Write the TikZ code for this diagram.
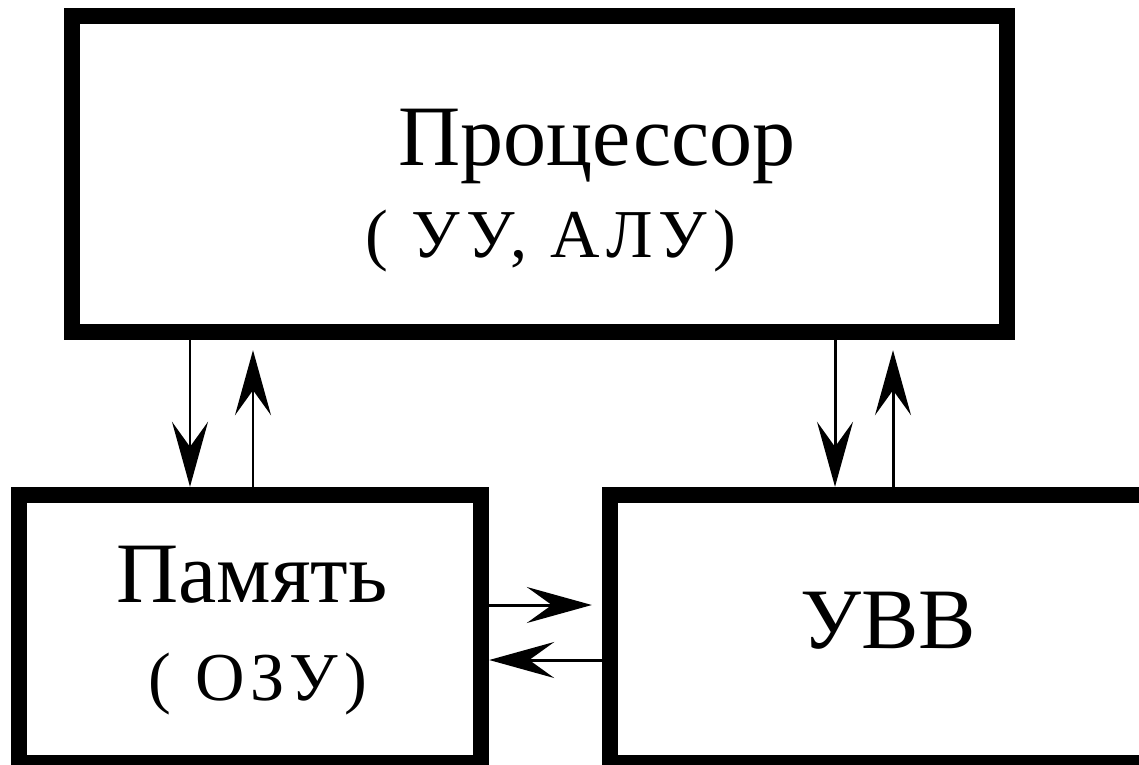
\documentclass[tikz,border=0pt]{standalone}
\usepackage{fontspec}
\setmainfont{Liberation Serif}
\usetikzlibrary{arrows.meta,positioning,calc}
\tikzset{
  busarrow/.style={-{Stealth[length=1.3cm,width=0.72cm,inset=0.5cm]}, line width=1.7pt, draw=black},
  busback/.style={busarrow, shorten >=0.2cm}
}

\begin{document}
\begin{tikzpicture}[
  x=0.02cm, y=-0.02cm,
  unitbox/.style={draw, line width=0.33cm, inner sep=0pt},
  bigtext/.style={font=\fontsize{49}{52}\selectfont, anchor=base},
  subtext/.style={font=\fontsize{39}{42}\selectfont\addfontfeature{LetterSpace=9}, anchor=base}
]
\useasboundingbox (0,0) rectangle (1139,764);
\clip (0,0) rectangle (1139,764);
\fill[white] (0,0) rectangle (1139,764);

% the three units
\node[unitbox, minimum width=18.7cm, minimum height=6.32cm] at (539.5,174) (cpu) {};
\node[unitbox, minimum width=9.24cm, minimum height=5.36cm] at (250,629) (mem) {};
\node[unitbox, minimum width=11cm, minimum height=5.36cm] at (885,629) (io) {};

\node[bigtext] at (597,165) (cpuname) {Процессор};
\node[subtext] at (551,257) (cpuparts) {( УУ, АЛУ)};
\node[bigtext] at (252,602) (memname) {Память};
\node[subtext] at (258,700) (memparts) {( ОЗУ)};
\node[bigtext] at (888,648) (ioname) {УВВ};

% links between the units
\coordinate (ldown) at (190,0);
\coordinate (lup) at (253,0);
\coordinate (rdown) at (835,0);
\coordinate (rup) at (893,0);
\coordinate (hright) at (0,605);
\coordinate (hleft) at (0,660);
\draw[busarrow] (cpu.south -| ldown) -- (mem.north -| ldown);
\draw[busback] (mem.north -| lup) -- (cpu.south -| lup);
\draw[busarrow] (cpu.south -| rdown) -- (io.north -| rdown);
\draw[busback] (io.north -| rup) -- (cpu.south -| rup);
\draw[busback] (mem.east |- hright) -- (io.west |- hright);
\draw[busarrow] (io.west |- hleft) -- (mem.east |- hleft);
\end{tikzpicture}
\end{document}
